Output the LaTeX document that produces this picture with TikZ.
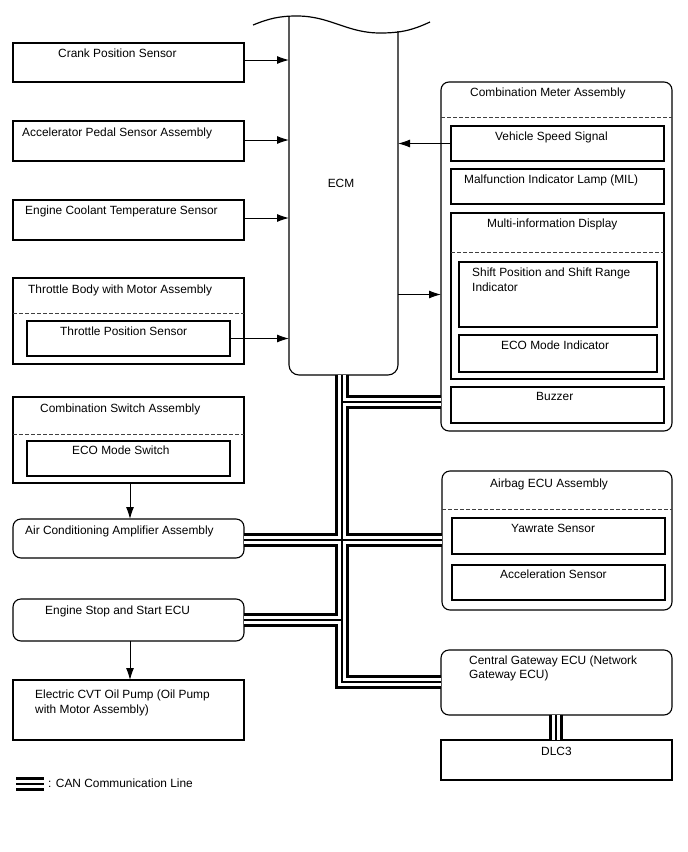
\documentclass[tikz,border=0pt]{standalone}
\usepackage{fontspec}
\setmainfont{Liberation Sans}
\usetikzlibrary{arrows.meta}
\begin{document}
\begin{tikzpicture}[x=1pt,y=-1pt,
  box/.style={draw, line width=1.1pt, inner sep=0pt, outer sep=0pt},
  rbox/.style={box, rounded corners=8pt},
  ghost/.style={inner sep=0pt, outer sep=0pt},
  txt/.style={anchor=base west, inner sep=0pt, font=\fontsize{11.9}{14}\selectfont},
  dsh/.style={draw=black!75, line width=0.9pt, dash pattern=on 4pt off 2pt},
  arr/.style={line width=1pt, -{Latex[length=12pt,width=8pt]}}]
\useasboundingbox (0,0) rectangle (688,852);

% left column
\node[box, minimum width=231pt, minimum height=39pt] (crank) at (128.5,62.5) {};
\node[box, minimum width=231pt, minimum height=40pt] (acc) at (128.5,141) {};
\node[box, minimum width=231pt, minimum height=40pt] (ect) at (128.5,220) {};
\node[box, minimum width=231pt, minimum height=86pt] (tb) at (128.5,321) {};
\node[box, minimum width=203pt, minimum height=35pt] (tps) at (128.5,338.5) {};
\node[box, minimum width=231pt, minimum height=86pt] (csa) at (128.5,440) {};
\node[box, minimum width=203pt, minimum height=35pt] (ems) at (128.5,458.5) {};
\node[rbox, minimum width=231pt, minimum height=39pt] (aca) at (128.5,538.5) {};
\node[rbox, minimum width=231pt, minimum height=42pt] (ess) at (128.5,620) {};
\node[box, minimum width=231pt, minimum height=60pt] (cvt) at (128.5,710) {};

% ECM
\node[ghost, minimum width=109pt, minimum height=358pt] (ecm) at (343.5,196) {};
\draw[line width=1.1pt, rounded corners=10pt] (ecm.west |- 0,17) -- (ecm.south west) -- (ecm.south east) -- (ecm.east |- 0,31);
\draw[line width=1.2pt] (253,25) to[out=22,in=180] (297,16) to[out=0,in=180] (380,33) to[out=0,in=205] (430,22);

% right column
\node[rbox, minimum width=231pt, minimum height=349pt] (cma) at (556.5,256.5) {};
\node[box, minimum width=213pt, minimum height=35pt] (vss) at (557.5,143.5) {};
\node[box, minimum width=213pt, minimum height=35pt] (mil) at (557.5,186.5) {};
\node[box, minimum width=213pt, minimum height=166pt] (mid) at (557.5,296) {};
\node[box, minimum width=198pt, minimum height=65pt] (spi) at (558,294.5) {};
\node[box, minimum width=198pt, minimum height=37pt] (eco) at (558,353.5) {};
\node[box, minimum width=213pt, minimum height=36pt] (buz) at (557.5,405) {};
\node[rbox, minimum width=230pt, minimum height=139pt] (air) at (557,540.5) {};
\node[box, minimum width=213pt, minimum height=36pt] (yaw) at (558.5,536) {};
\node[box, minimum width=213pt, minimum height=35pt] (acs) at (558.5,582.5) {};
\node[rbox, minimum width=231pt, minimum height=65pt] (gw) at (556.5,682.5) {};
\node[box, minimum width=231pt, minimum height=40pt] (dlc) at (556.5,760) {};

% dashed separators
\draw[dsh] (tb.west |- 0,313) -- (tb.east |- 0,313);
\draw[dsh] (csa.west |- 0,434) -- (csa.east |- 0,434);
\draw[dsh] (cma.west |- 0,117) -- (cma.east |- 0,117);
\draw[dsh] (mid.west |- 0,252) -- (mid.east |- 0,252);
\draw[dsh] (air.west |- 0,509) -- (air.east |- 0,509);

% texts
\node[txt] (t1) at (58,57) {Crank Position Sensor};
\node[txt] (t2) at (22,136) {Accelerator Pedal Sensor Assembly};
\node[txt] (t3) at (25,214) {Engine Coolant Temperature Sensor};
\node[txt] (t4) at (28,293) {Throttle Body with Motor Assembly};
\node[txt] (t5) at (60,335) {Throttle Position Sensor};
\node[txt, anchor=base] (t6) at (341,187) {ECM};
\node[txt] (t7) at (470,96) {Combination Meter Assembly};
\node[txt] (t8) at (495,140) {Vehicle Speed Signal};
\node[txt] (t9) at (464,183) {Malfunction Indicator Lamp (MIL)};
\node[txt] (t10) at (487,227) {Multi-information Display};
\node[txt] (t11) at (472,276) {Shift Position and Shift Range};
\node[txt] (t12) at (472,291) {Indicator};
\node[txt] (t13) at (501,349) {ECO Mode Indicator};
\node[txt] (t14) at (536,400) {Buzzer};
\node[txt] (t15) at (40,412) {Combination Switch Assembly};
\node[txt] (t16) at (72,454) {ECO Mode Switch};
\node[txt] (t17) at (25,534) {Air Conditioning Amplifier Assembly};
\node[txt] (t18) at (45,614) {Engine Stop and Start ECU};
\node[txt] (t19) at (35,698) {Electric CVT Oil Pump (Oil Pump};
\node[txt] (t20) at (35,713) {with Motor Assembly)};
\node[txt] (t21) at (490,487) {Airbag ECU Assembly};
\node[txt] (t22) at (511,532) {Yawrate Sensor};
\node[txt] (t23) at (500,578) {Acceleration Sensor};
\node[txt] (t24) at (469,664) {Central Gateway ECU (Network};
\node[txt] (t25) at (469,678) {Gateway ECU)};
\node[txt] (t26) at (541,755) {DLC3};
\node[txt] (t27) at (48,787) {: CAN Communication Line};

% arrows
\draw[arr] (crank.east |- 0,60) -- (ecm.west |- 0,60);
\draw[arr] (acc.east |- 0,140) -- (ecm.west |- 0,140);
\draw[arr] (ect.east |- 0,218) -- (ecm.west |- 0,218);
\draw[arr] (tps.east) -- (tps.east -| ecm.west);
\draw[arr] (vss.west) -- (vss.west -| ecm.east);
\draw[arr] (spi.west -| ecm.east) -- (spi.west -| cma.west);
\draw[arr] (csa.south -| 130,0) -- (aca.north -| 130,0);
\draw[arr] (ess.south -| 130,0) -- (cvt.north -| 130,0);

% CAN bus
\coordinate (b0) at (342,375);
\coordinate (b1) at (342,402);
\coordinate (b2) at (342,540);
\coordinate (b3) at (342,620);
\coordinate (b4) at (342,682);
\coordinate (l0) at (16,784);
\coordinate (l1) at (44,784);
\foreach \w/\c in {14/black,8/white,1.3/black}{
  \draw[line width=\w pt, draw=\c, line cap=butt, line join=miter]
    (b0) -- (b4) -- (b4 -| gw.west)
    (b1) -- (b1 -| cma.west)
    (b2 -| aca.east) -- (b2 -| air.west)
    (b3 -| ess.east) -- (b3)
    (gw.south -| 556,0) -- (dlc.north -| 556,0)
    (l0) -- (l1);
}
\end{tikzpicture}
\end{document}
